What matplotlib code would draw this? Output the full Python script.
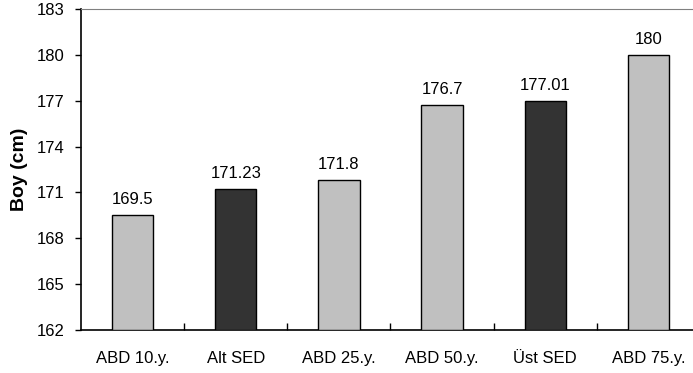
import numpy as np
import matplotlib.pyplot as plt
from matplotlib.ticker import FixedLocator

plt.rcParams['font.family'] = ['Liberation Sans', 'DejaVu Sans']

categories = ['ABD 10.y.', 'Alt SED', 'ABD 25.y.', 'ABD 50.y.', 'Üst SED', 'ABD 75.y.']
heights = [169.5, 171.23, 171.8, 176.7, 177.01, 180]
value_labels = ['169.5', '171.23', '171.8', '176.7', '177.01', '180']
bar_colors = ['#c0c0c0', '#333333', '#c0c0c0', '#c0c0c0', '#333333', '#c0c0c0']
y_ticks = [162, 165, 168, 171, 174, 177, 180, 183]

fig = plt.figure(figsize=(6.93, 3.73), dpi=100)
ax = fig.add_axes([81 / 693, 43 / 373, 619 / 693, 321 / 373])

x = np.arange(len(categories))
base = 162
ax.bar(x, np.array(heights) - base, bottom=base, width=0.4,
       color=bar_colors, edgecolor='black', linewidth=1.0, zorder=3)

# value labels sit a little above each bar
for xi, h, lab in zip(x, heights, value_labels):
    ax.text(xi, h + 0.72, lab, ha='center', va='baseline', fontsize=12)

ax.set_xlim(-0.5, len(categories) - 0.5)
ax.set_ylim(162, 183)
ax.set_yticks(y_ticks)
ax.set_xticks(x)
ax.set_xticklabels(categories, fontsize=12)
ax.xaxis.set_minor_locator(FixedLocator(np.arange(0.5, len(categories) - 0.5, 1)))
ax.tick_params(axis='x', which='major', length=0, pad=15)
ax.tick_params(axis='x', which='minor', direction='in', length=5, width=1)
ax.tick_params(axis='y', direction='out', length=4, width=1, labelsize=12, pad=8)

ax.spines['left'].set_linewidth(1.2)
ax.spines['bottom'].set_linewidth(1.2)
ax.spines['top'].set_color('#808080')
ax.spines['right'].set_color('#808080')

ax.set_ylabel('Boy (cm)', fontsize=14, fontweight='bold', labelpad=6)

fig.savefig('out.png', dpi=100)
